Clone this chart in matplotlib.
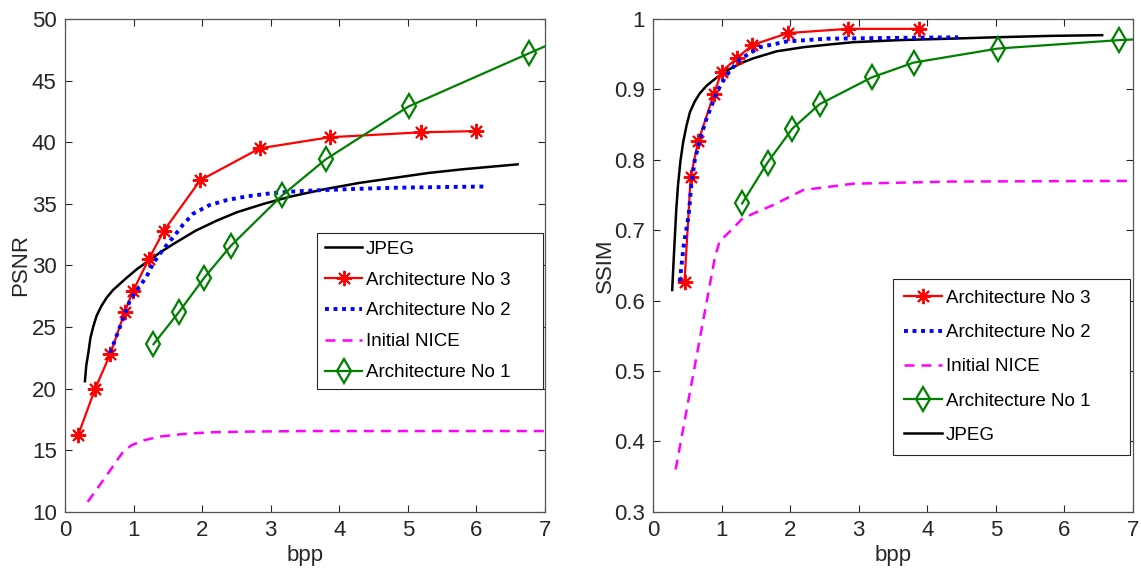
import matplotlib
matplotlib.use("Agg")
import matplotlib.pyplot as plt
from matplotlib.ticker import FormatStrFormatter

plt.rcParams['font.family'] = ['Liberation Sans', 'DejaVu Sans']

# ---- PSNR panel data (bpp, PSNR) ----
psnr_jpeg_x = [0.29, 0.31, 0.34, 0.37, 0.41, 0.46, 0.53, 0.61, 0.70, 0.80, 0.90, 1.05, 1.2, 1.4,
               1.6, 1.9, 2.2, 2.5, 2.9, 3.3, 3.8, 4.3, 4.8, 5.3, 5.8, 6.2, 6.6]
psnr_jpeg_y = [20.6, 21.9, 22.9, 24.1, 25.0, 25.9, 26.7, 27.4, 28.0, 28.5, 29.0, 29.7, 30.3, 31.1,
               31.8, 32.8, 33.6, 34.3, 35.0, 35.6, 36.2, 36.7, 37.1, 37.5, 37.8, 38.0, 38.2]

psnr_a3_x = [0.19, 0.44, 0.66, 0.87, 0.99, 1.22, 1.44, 1.97, 2.84, 3.86, 5.19, 6.0]
psnr_a3_y = [16.2, 20.0, 22.8, 26.2, 27.9, 30.5, 32.8, 36.9, 39.5, 40.4, 40.8, 40.9]

psnr_a2_x = [0.66, 0.80, 0.95, 1.09, 1.19, 1.29, 1.43, 1.58, 1.72, 1.87, 2.11, 2.36, 2.65, 3.0,
             3.33, 3.72, 4.2, 4.8, 5.4, 6.1]
psnr_a2_y = [22.9, 25.0, 27.2, 28.3, 29.1, 30.2, 31.3, 32.3, 33.3, 34.2, 34.9, 35.3, 35.6, 35.85,
             36.0, 36.1, 36.2, 36.3, 36.35, 36.4]

psnr_nice_x = [0.33, 0.6, 0.85, 0.97, 1.15, 1.38, 1.7, 2.11, 2.6, 3.5, 7.0]
psnr_nice_y = [10.8, 12.9, 14.9, 15.4, 15.8, 16.1, 16.3, 16.45, 16.5, 16.55, 16.55]

psnr_a1_x = [1.29, 1.66, 2.03, 2.42, 3.17, 3.80, 5.01, 6.76, 7.5]
psnr_a1_y = [23.6, 26.2, 29.0, 31.6, 35.7, 38.6, 42.9, 47.2, 49.0]

# ---- SSIM panel data (bpp, SSIM) ----
ssim_jpeg_x = [0.28, 0.30, 0.32, 0.34, 0.365, 0.40, 0.44, 0.49, 0.54, 0.61, 0.68, 0.78, 0.88, 1.0,
               1.12, 1.3, 1.46, 1.8, 2.2, 2.6, 2.92, 3.6, 4.33, 5.0, 5.8, 6.55]
ssim_jpeg_y = [0.615, 0.655, 0.693, 0.730, 0.764, 0.798, 0.825, 0.849, 0.868, 0.883, 0.894, 0.905,
               0.913, 0.922, 0.929, 0.938, 0.944, 0.954, 0.960, 0.964, 0.967, 0.970, 0.972, 0.974,
               0.976, 0.977]

ssim_a3_x = [0.46, 0.55, 0.66, 0.89, 1.0, 1.23, 1.45, 1.97, 2.84, 3.88]
ssim_a3_y = [0.627, 0.776, 0.826, 0.894, 0.925, 0.945, 0.963, 0.980, 0.986, 0.986]

ssim_a2_x = [0.39, 0.45, 0.52, 0.56, 0.61, 0.7, 0.78, 0.93, 1.07, 1.27, 1.56, 1.95, 2.53, 3.41, 4.45]
ssim_a2_y = [0.627, 0.68, 0.721, 0.765, 0.80, 0.834, 0.858, 0.896, 0.92, 0.943, 0.96, 0.968,
             0.972, 0.973, 0.974]

ssim_nice_x = [0.33, 0.9, 0.97, 1.12, 1.31, 1.76, 2.19, 2.92, 4.33, 7.0]
ssim_nice_y = [0.36, 0.66, 0.684, 0.698, 0.717, 0.736, 0.757, 0.766, 0.769, 0.77]

ssim_a1_x = [1.30, 1.67, 2.03, 2.43, 3.19, 3.80, 5.03, 6.80, 7.5]
ssim_a1_y = [0.738, 0.796, 0.844, 0.879, 0.917, 0.938, 0.958, 0.970, 0.973]

GREEN = '#008000'
AX_COL = '#262626'


def style_axes(ax):
    ax.set_xlim(0, 7)
    ax.set_xticks(range(0, 8))
    ax.tick_params(direction='in', top=True, right=True, length=5, width=0.8,
                   labelsize=16, colors=AX_COL, pad=6)
    for s in ax.spines.values():
        s.set_color('#555555')
        s.set_linewidth(0.9)
    ax.set_xlabel('bpp', fontsize=16, color=AX_COL, labelpad=3)


def draw_series(ax, jx, jy, a3x, a3y, a2x, a2y, nx, ny, a1x, a1y):
    h = {}
    h['jpeg'], = ax.plot(jx, jy, color='black', lw=1.8)
    h['a3'], = ax.plot(a3x, a3y, color='red', lw=1.6, marker=(8, 2, 0), ms=11, mew=1.4)
    h['a2'], = ax.plot(a2x, a2y, color='blue', lw=2.8, ls=(0, (1, 1.2)))
    h['nice'], = ax.plot(nx, ny, color='magenta', lw=1.8, ls=(0, (4, 2.8)))
    h['a1'], = ax.plot(a1x, a1y, color=GREEN, lw=1.6, marker='d', ms=12,
                       mfc='none', mew=1.6)
    return h


def add_legend(ax, handles, labels, x0, top, width, spacing, pad):
    leg = ax.legend(handles, labels, loc='upper left', bbox_to_anchor=(x0, 0, width, top),
                    mode='expand', fontsize=13.5, fancybox=False, framealpha=1,
                    edgecolor=AX_COL, labelspacing=spacing, handlelength=2.0,
                    handletextpad=0.2, borderaxespad=0, borderpad=pad)
    leg.get_frame().set_linewidth(0.8)
    return leg


fig = plt.figure(figsize=(11.41, 5.75), dpi=100)

ax1 = fig.add_axes([0.057, 0.11, 0.4207, 0.857])
h1 = draw_series(ax1, psnr_jpeg_x, psnr_jpeg_y, psnr_a3_x, psnr_a3_y, psnr_a2_x, psnr_a2_y,
                 psnr_nice_x, psnr_nice_y, psnr_a1_x, psnr_a1_y)
style_axes(ax1)
ax1.set_ylim(10, 50)
ax1.set_yticks(range(10, 51, 5))
ax1.set_ylabel('PSNR', fontsize=16, color=AX_COL, labelpad=0.5)
add_legend(ax1, [h1['jpeg'], h1['a3'], h1['a2'], h1['nice'], h1['a1']],
           ['JPEG', 'Architecture No 3', 'Architecture No 2', 'Initial NICE', 'Architecture No 1'],
           0.525, 0.566, 0.471, 0.73, 0.42)

ax2 = fig.add_axes([0.5723, 0.11, 0.4207, 0.857])
h2 = draw_series(ax2, ssim_jpeg_x, ssim_jpeg_y, ssim_a3_x, ssim_a3_y, ssim_a2_x, ssim_a2_y,
                 ssim_nice_x, ssim_nice_y, ssim_a1_x, ssim_a1_y)
style_axes(ax2)
ax2.set_ylim(0.3, 1.0)
ax2.set_yticks([0.3, 0.4, 0.5, 0.6, 0.7, 0.8, 0.9, 1.0])
ax2.yaxis.set_major_formatter(FormatStrFormatter('%g'))
ax2.set_ylabel('SSIM', fontsize=16, color=AX_COL, labelpad=-1.5)
add_legend(ax2, [h2['a3'], h2['a2'], h2['nice'], h2['a1'], h2['jpeg']],
           ['Architecture No 3', 'Architecture No 2', 'Initial NICE', 'Architecture No 1', 'JPEG'],
           0.50, 0.473, 0.494, 0.91, 0.6)

fig.savefig('out.png', dpi=100)
